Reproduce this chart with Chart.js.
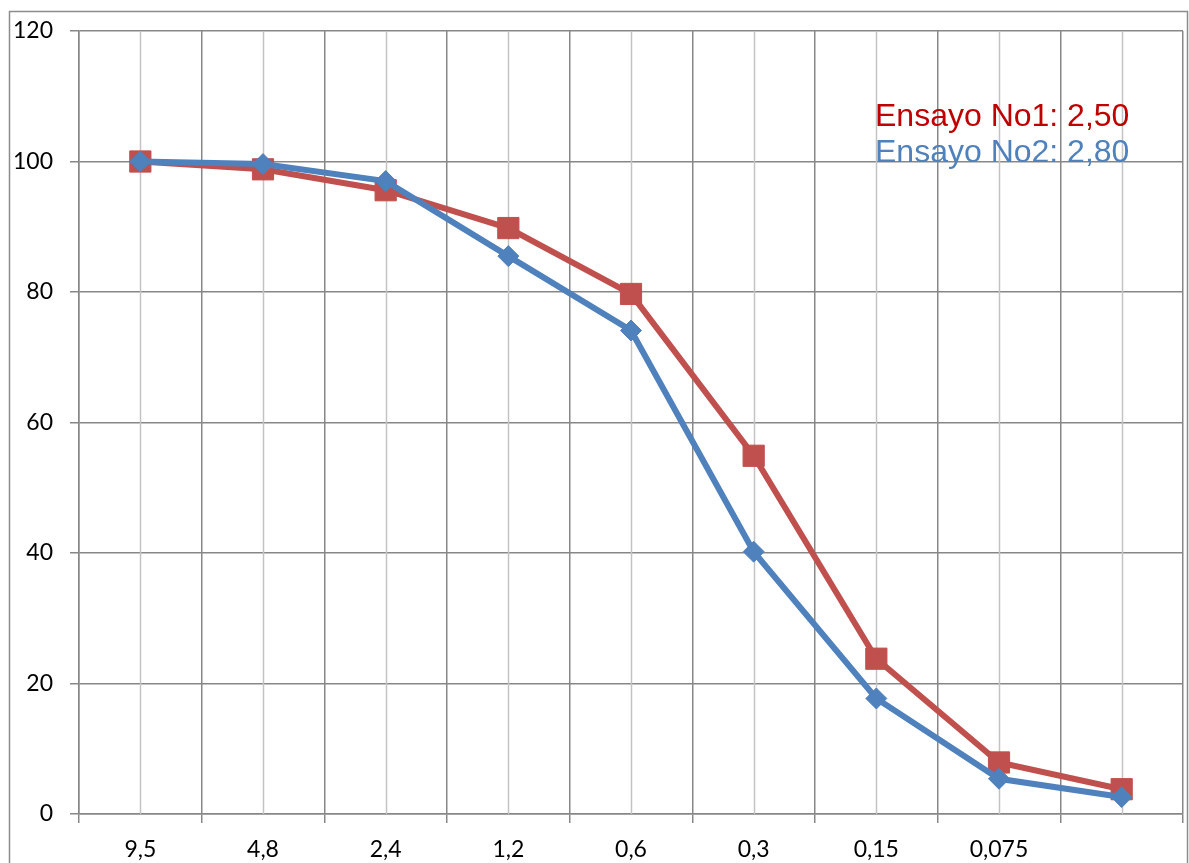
<!DOCTYPE html>
<html>
<head>
<meta charset="utf-8">
<script src="https://cdn.jsdelivr.net/npm/chart.js@4/dist/chart.umd.min.js"></script>
<style>
  html, body { margin: 0; padding: 0; background: #ffffff; }
  #wrap { position: absolute; left: 0; top: 0; width: 1189px; height: 863px; }
</style>
</head>
<body>
<div id="wrap"><canvas id="chart" width="1189" height="863"></canvas></div>
<script>
// Sieve sizes (mm) along the bottom axis; the last slot is the pan.
const sieveLabels = ['9,5', '4,8', '2,4', '1,2', '0,6', '0,3', '0,15', '0,075', ''];

// Percent passing for each test.
const ensayo1 = [100, 98.8, 95.6, 89.8, 79.7, 54.9, 23.8, 7.9, 3.8];
const ensayo2 = [100, 99.6, 97.0, 85.5, 74.1, 40.2, 17.7, 5.4, 2.6];

// Fineness modulus notes shown in the upper right.
const notes = [
  { text: 'Ensayo No1: 2,50', color: '#C00000' },
  { text: 'Ensayo No2: 2,80', color: '#4F81BD' }
];

const yTicks = { min: 0, max: 120, step: 20 };

const darkGrid = '#878787';
const lightGrid = '#c3c3c3';

// Outer frame around the whole chart.
const framePlugin = {
  id: 'frame',
  beforeDraw(chart) {
    const ctx = chart.ctx;
    ctx.save();
    ctx.fillStyle = '#ffffff';
    ctx.fillRect(0, 0, chart.width, chart.height);
    ctx.strokeStyle = '#8c8c8c';
    ctx.lineWidth = 1.5;
    ctx.strokeRect(9.5, 11.5, 1178, 900);
    ctx.restore();
  }
};

// Light vertical lines through each category centre.
const centreLines = {
  id: 'centreLines',
  beforeDatasetsDraw(chart) {
    const x = chart.scales.x;
    const area = chart.chartArea;
    const ctx = chart.ctx;
    ctx.save();
    ctx.strokeStyle = lightGrid;
    ctx.lineWidth = 1.5;
    sieveLabels.forEach((_, i) => {
      const px = Math.round(x.getPixelForValue(i)) + 0.5;
      ctx.beginPath();
      ctx.moveTo(px, area.top);
      ctx.lineTo(px, area.bottom);
      ctx.stroke();
    });
    ctx.restore();
  }
};

// Text notes drawn over the plot.
const notesPlugin = {
  id: 'notes',
  afterDatasetsDraw(chart) {
    const ctx = chart.ctx;
    ctx.save();
    ctx.font = '32px "Liberation Sans", Arial, sans-serif';
    ctx.textAlign = 'left';
    ctx.textBaseline = 'alphabetic';
    const baselines = [126, 162];
    notes.forEach((n, i) => {
      ctx.fillStyle = n.color;
      ctx.fillText(n.text, 875, baselines[i]);
    });
    ctx.restore();
  }
};

new Chart(document.getElementById('chart'), {
  type: 'line',
  data: {
    labels: sieveLabels,
    datasets: [
      {
        label: 'Ensayo No1',
        data: ensayo1,
        borderColor: '#C0504D',
        backgroundColor: '#C0504D',
        borderWidth: 6,
        pointStyle: 'rect',
        pointRadius: 15,
        pointBorderWidth: 1,
        pointBorderColor: '#C0504D',
        pointBackgroundColor: '#C0504D',
        tension: 0,
        order: 2
      },
      {
        label: 'Ensayo No2',
        data: ensayo2,
        borderColor: '#4F81BD',
        backgroundColor: '#4F81BD',
        borderWidth: 6,
        pointStyle: 'rectRot',
        pointRadius: 10.5,
        pointBorderWidth: 1,
        pointBorderColor: '#4F81BD',
        pointBackgroundColor: '#4F81BD',
        tension: 0,
        order: 1
      }
    ]
  },
  options: {
    responsive: false,
    animation: false,
    events: [],
    layout: { autoPadding: false, padding: { left: 0, top: 31, right: 6, bottom: 0 } },
    plugins: {
      legend: { display: false },
      tooltip: { enabled: false },
      title: { display: false }
    },
    scales: {
      x: {
        type: 'category',
        offset: true,
        grid: {
          offset: true,
          color: darkGrid,
          lineWidth: 1.5,
          tickLength: 9,
          drawTicks: true
        },
        border: { color: darkGrid, width: 1.5 },
        ticks: {
          color: '#000000',
          font: { family: 'Lato, "Open Sans", sans-serif', size: 23 },
          padding: 13,
          maxRotation: 0,
          autoSkip: false
        },
        afterFit(scale) {
          scale.height = 49;
          scale.paddingLeft = 0;
          scale.paddingRight = 0;
        }
      },
      y: {
        min: yTicks.min,
        max: yTicks.max,
        grid: {
          color: darkGrid,
          lineWidth: 1.5,
          tickLength: 9
        },
        border: { color: darkGrid, width: 1.5 },
        ticks: {
          stepSize: yTicks.step,
          color: '#000000',
          font: { family: 'Lato, "Open Sans", sans-serif', size: 23 },
          padding: 17
        },
        afterFit(scale) {
          scale.width = 79;
          scale.paddingTop = 0;
          scale.paddingBottom = 0;
        }
      }
    }
  },
  plugins: [framePlugin, centreLines, notesPlugin]
});
</script>
</body>
</html>
